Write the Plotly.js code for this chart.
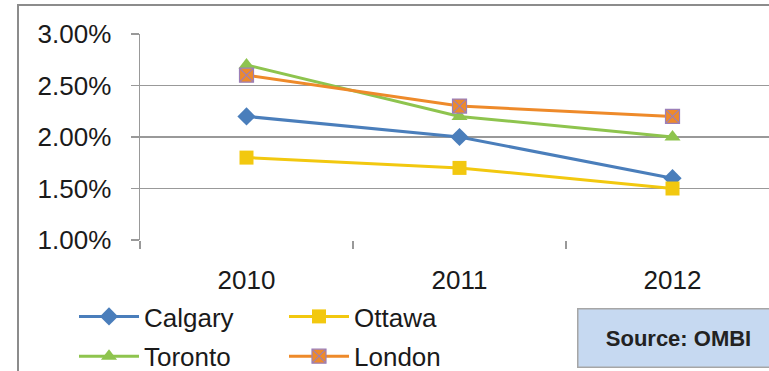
<!DOCTYPE html>
<html><head><meta charset="utf-8">
<script src="https://cdn.plot.ly/plotly-3.0.1.min.js"></script>
<style>html,body{margin:0;padding:0;overflow:hidden;background:#fff}</style>
</head><body>
<div id="chart" style="width:769px;height:371px"></div>
<script>
var years = ['2010', '2011', '2012'];
var calgary = [2.2, 2.0, 1.6];
var ottawa = [1.8, 1.7, 1.5];
var toronto = [2.7, 2.2, 2.0];
var london = [2.6, 2.3, 2.2];
var yTicks = [1.0, 1.5, 2.0, 2.5, 3.0];

var W = 769, H = 371, L = 140, T = 34, R = 0, B = 131;
var pw = W - L - R, ph = H - T - B;
function px(x){ return (x - L) / pw; }
function py(y){ return (H - B - y) / ph; }
function cy(y){ return 1 - y / H; }

function tr(name, y, color, symbol, lineColor, legend){
  return {type:'scatter', mode:'lines+markers', x: years, y: y, name: name, legend: legend,
    legendgroup: name,
    line:{color: color, width: 3},
    marker:{symbol: symbol, size: 14, color: color, line:{color: lineColor, width: lineColor===color?0:1.2}}};
}
var data = [
  tr('Calgary', calgary, '#4a7ebb', 'diamond', '#4a7ebb', 'legend'),
  tr('Toronto', toronto, '#8ec44e', 'triangle-up', '#8ec44e', 'legend'),
  tr('Ottawa', ottawa, '#f2c80f', 'square', '#f2c80f', 'legend2'),
  tr('London', london, '#ee8a2a', 'square-x', '#9b7fb8', 'legend2')
];
var font = {family:'Liberation Sans, Arial, sans-serif', size:26, color:'#1a1a1a'};
var layout = {
  width: W, height: H, margin:{l:L, t:T, r:R, b:B, pad:0},
  paper_bgcolor:'#fff', plot_bgcolor:'#fff', showlegend:true,
  font: font,
  xaxis:{type:'category', range:[-0.5, 2.453], tickson:'boundaries', ticks:'outside', ticklen:8,
    tickcolor:'#999', tickwidth:1.5, showgrid:false, showline:false, zeroline:false,
    tickfont: font, ticklabelstandoff: 22, fixedrange:true},
  yaxis:{range:[1.0, 3.0], tickvals: yTicks, ticktext: yTicks.map(function(v){return v.toFixed(2)+'%';}),
    ticks:'outside', ticklen:8, tickcolor:'#999', tickwidth:1.5,
    showgrid:true, gridcolor:'#999', gridwidth:1.5, showline:true, linecolor:'#999', linewidth:1.5,
    zeroline:false, tickfont: font, ticklabelstandoff: 14, fixedrange:true},
  legend:{xref:'paper', yref:'container', x: px(74), xanchor:'left', y: cy(293), yanchor:'top',
    orientation:'v', itemwidth:60, font: font, bgcolor:'rgba(0,0,0,0)', tracegroupgap:3, itemclick:false},
  legend2:{xref:'paper', yref:'container', x: px(284), xanchor:'left', y: cy(293), yanchor:'top',
    orientation:'v', itemwidth:60, font: font, bgcolor:'rgba(0,0,0,0)', tracegroupgap:3, itemclick:false},
  shapes:[
    {type:'rect', xref:'paper', yref:'paper', x0: px(18), x1: px(800), y0: py(400), y1: py(5),
     line:{color:'#8c8c8c', width:2}, fillcolor:'rgba(0,0,0,0)', layer:'below'}
  ],
  annotations:[
    {xref:'paper', yref:'paper', x: px(577), y: py(308), xanchor:'left', yanchor:'top',
     text:'<b>Source: OMBI</b>', showarrow:false, width:200, height:57, align:'center', valign:'middle',
     bgcolor:'#c6d9f1', bordercolor:'#a6a6a6', borderwidth:1.5, borderpad:0,
     font:{family:'Liberation Sans, Arial, sans-serif', size:22, color:'#222'}}
  ]
};
Plotly.newPlot('chart', data, layout, {displayModeBar:false, staticPlot:true});
</script>
</body></html>
